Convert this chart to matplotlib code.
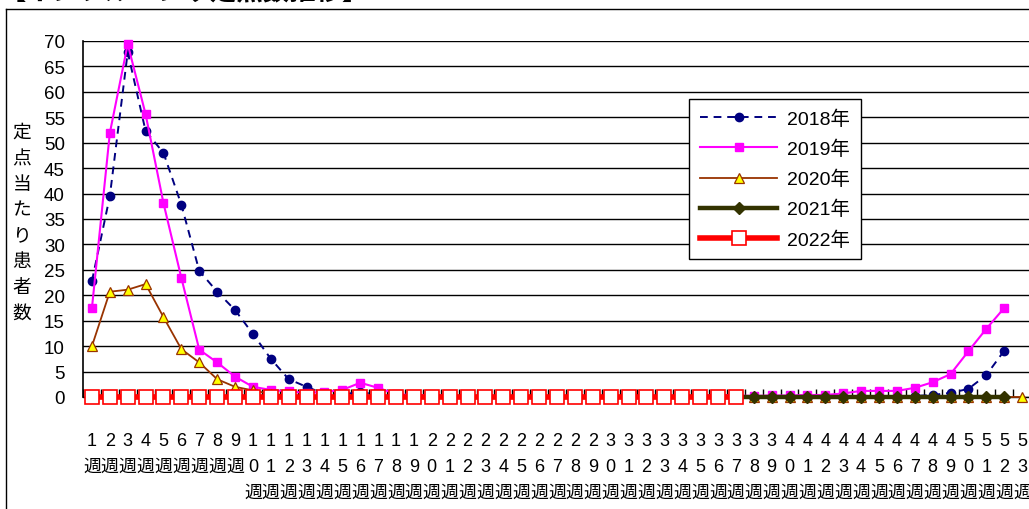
#!/usr/bin/env python3
"""Weekly influenza sentinel counts, 2018-2022."""

import matplotlib

matplotlib.use("Agg")
import matplotlib.pyplot as plt
from matplotlib.lines import Line2D

plt.rcParams["font.family"] = ["Liberation Sans", "Noto Sans CJK JP"]

WEEKS = list(range(1, 54))
WEEK_LABELS = ["\n".join(list(str(w)) + ["週"]) for w in WEEKS]

Y2018 = [22.8, 39.5, 67.8, 52.3, 48.0, 37.8, 24.8, 20.7, 17.1, 12.4,
         7.5, 3.5, 2.0, 0.6, 0.5, 1.0, 0.4, 0.2, 0.1, 0.1,
         0.1, 0.0, 0.0, 0.0, 0.0, 0.0, 0.0, 0.0, 0.0, 0.0,
         0.0, 0.0, 0.0, 0.0, 0.0, 0.0, 0.0, 0.0, 0.0, 0.0,
         0.0, 0.0, 0.0, 0.1, 0.1, 0.1, 0.2, 0.4, 0.8, 1.6,
         4.3, 9.1]
Y2019 = [17.5, 51.9, 69.4, 55.6, 38.1, 23.4, 9.3, 6.8, 4.0, 2.0,
         1.4, 1.1, 0.8, 1.0, 1.4, 2.8, 1.8, 0.6, 0.3, 0.4,
         0.2, 0.2, 0.1, 0.1, 0.1, 0.1, 0.1, 0.1, 0.1, 0.1,
         0.1, 0.1, 0.1, 0.1, 0.2, 0.4, 0.3, 0.2, 0.3, 0.3,
         0.4, 0.4, 0.7, 1.2, 1.2, 1.2, 1.8, 2.9, 4.5, 9.0,
         13.4, 17.5]
Y2020 = [10.0, 20.7, 21.1, 22.2, 15.7, 9.4, 6.8, 3.5, 2.0, 1.3,
         0.6, 0.3, 0.1] + [0.0] * 40
Y2021 = [0.0] * 52
Y2022 = [0.0] * 37

SERIES = [
    ("2018年", Y2018, dict(color="#000080", linestyle=(0, (4, 3)), linewidth=1.4,
                           marker="o", markersize=6, markerfacecolor="#000080",
                           markeredgecolor="#000080")),
    ("2019年", Y2019, dict(color="#FF00FF", linestyle="-", linewidth=1.5,
                           marker="s", markersize=6, markerfacecolor="#FF00FF",
                           markeredgecolor="#FF00FF")),
    ("2020年", Y2020, dict(color="#993300", linestyle="-", linewidth=1.3,
                           marker="^", markersize=7, markerfacecolor="#FFFF00",
                           markeredgecolor="#993300", markeredgewidth=0.9)),
    ("2021年", Y2021, dict(color="#333300", linestyle="-", linewidth=3.2,
                           marker="D", markersize=6, markerfacecolor="#333300",
                           markeredgecolor="#333300")),
    ("2022年", Y2022, dict(color="#FF0000", linestyle="-", linewidth=4.0,
                           marker="s", markersize=9.5, markerfacecolor="white",
                           markeredgecolor="#FF0000", markeredgewidth=1.2)),
]

W, H = 1029, 510
fig = plt.figure(figsize=(W / 100, H / 100), dpi=100)
ax = fig.add_axes([83 / W, 1 - 398 / H, (1031 - 83) / W, (398 - 42) / H])

for i, (label, values, style) in enumerate(SERIES):
    ax.plot(WEEKS[:len(values)], values, label=label, clip_on=False,
            zorder=3 + i, **style)

ax.set_xlim(0.5, 53.5)
ax.set_ylim(0, 70)
ax.set_yticks(range(0, 71, 5))
ax.yaxis.grid(True, color="black", linewidth=1.0)
ax.set_axisbelow(True)
ax.tick_params(axis="y", length=0, pad=13, labelsize=13.5)

ax.set_xticks(WEEKS)
ax.set_xticklabels(WEEK_LABELS, fontsize=13, linespacing=1.68, va="top")
ax.set_xticks([w + 0.5 for w in range(0, 54)], minor=True)
ax.tick_params(axis="x", which="major", length=0, pad=25)
ax.tick_params(axis="x", which="minor", direction="in", length=6, width=1, color="black")

for side in ("top", "right"):
    ax.spines[side].set_visible(False)
ax.spines["left"].set_linewidth(1.2)
ax.spines["bottom"].set_linewidth(1.0)

fig.text(22 / W, 1 - 224 / H, "\n".join("定点当たり患者数"), fontsize=13.5,
         ha="center", va="center", linespacing=1.68)

leg = ax.legend(loc="upper left", bbox_to_anchor=(689 / W, 1 - 100 / H),
                bbox_transform=fig.transFigure, fontsize=14, numpoints=1,
                handlelength=4.0, handletextpad=0.5, labelspacing=0.6,
                borderpad=0.55, borderaxespad=0, fancybox=False,
                framealpha=1, edgecolor="black")
leg.get_frame().set_linewidth(1.0)
leg.set_zorder(20)

# outer chart frame (runs off the right and bottom edges)
fig.add_artist(Line2D([6 / W, 1], [1 - 10 / H] * 2, color="black", linewidth=1.0))
fig.add_artist(Line2D([6 / W] * 2, [0, 1 - 10 / H], color="black", linewidth=1.0))

# title sits mostly above the top edge, as in the source image
fig.text(0, 1.0, "【インフルエンザ定点数推移】", fontsize=19,
         fontweight="bold", ha="left", va="baseline")

fig.savefig("out.png", dpi=100)
